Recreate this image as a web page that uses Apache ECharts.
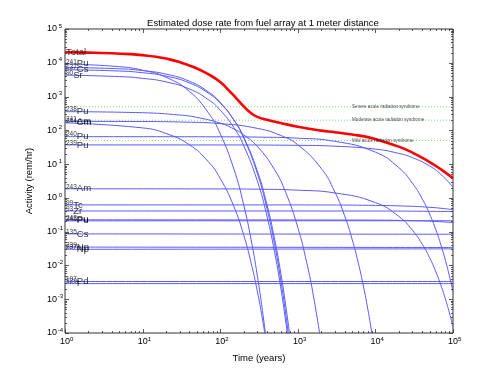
<!DOCTYPE html>
<html><head><meta charset="utf-8">
<script src="https://cdn.jsdelivr.net/npm/echarts@6/dist/echarts.min.js"></script>
<style>html,body{margin:0;padding:0;background:#fff}#c{width:500px;height:375px}</style>
</head><body><div id="c"></div>
<script>
const FONT = '"Liberation Sans", Arial, Helvetica, sans-serif';
const chartTitle = 'Estimated dose rate from fuel array at 1 meter distance';
const xName = 'Time (years)';
const yName = 'Activity (rem/hr)';
const xDecades = [0, 1, 2, 3, 4, 5];
const yDecades = [-4, -3, -2, -1, 0, 1, 2, 3, 4, 5];

// [time (years), dose rate (rem/hr)]
const totalData = [[1,20400],[2,20000],[4,19200],[7,18000],[10,16800],[15,15000],[20,13300],[30,10500],[45,7500],[70,4600],[100,2700],[130,1500],[160,900],[200,520],[250,320],[300,250],[400,205],[600,165],[1000,128],[2000,98],[3000,88],[5000,75],[8000,63],[12000,48],[20000,33],[30000,22],[50000,11.5],[70000,7],[100000,3.8]];
const pu241Data = [[1,9300],[5,7670],[10,6030],[20,3730],[40,1426],[70,335],[100,79.3],[150,7.14],[200,0.644],[250,0.058],[300,0.0052],[350,4.7e-4],[400,4.25e-5]];
const unlabeledData = [[1,7300],[5,6630],[10,5880],[20,4620],[40,2850],[70,1387],[100,673],[150,203],[200,60.9],[300,5.48],[400,0.493],[500,0.0444],[600,0.0040],[700,3.6e-4],[800,3.25e-5]];
const cs137Data = [[1,6250],[5,5700],[10,5080],[20,4040],[40,2540],[70,1275],[100,640],[150,203],[200,63.8],[300,6.39],[400,0.638],[500,0.0638],[600,0.0064],[700,6.4e-4],[800,6.4e-5]];
const sr90Data = [[1,4300],[5,3900],[10,3460],[20,2720],[40,1680],[70,817],[100,396],[150,120],[200,35.9],[300,3.23],[400,0.291],[500,0.0261],[600,2.36e-3],[700,2.12e-4],[800,1.91e-5]];
const pu238Data = [[1,357],[10,332],[30,284],[50,242],[100,163],[150,110],[200,74.0],[300,33.6],[500,6.92],[700,1.43],[1000,0.133],[1300,0.0124],[1600,1.16e-3],[2000,4.9e-5]];
const am241Data = [[1,185],[10,182.4],[30,176.6],[100,157.8],[300,114.5],[600,70.7],[1000,37.2],[2000,7.49],[3000,1.50],[4000,0.302],[5000,0.0608],[6000,0.01224],[7000,2.46e-3],[8000,4.94e-4],[9000,9.9e-5],[10000,1.99e-5]];
const cm244Data = [[1,167],[10,118],[20,80.7],[40,37.5],[70,11.9],[100,3.77],[150,0.556],[200,0.082],[250,0.012],[300,1.78e-3],[350,2.62e-4],[400,3.86e-5]];
const pu240Data = [[1,65],[100,64.3],[300,63.0],[1000,58.5],[3000,47.3],[10000,22.6],[20000,7.87],[30000,2.73],[40000,0.948],[50000,0.330],[60000,0.115],[70000,0.0399],[80000,0.0139],[90000,4.82e-3],[100000,1.68e-3]];
const pu239Data = [[1,37],[100,36.9],[1000,36.0],[3000,33.9],[10000,27.8],[20000,20.8],[30000,15.6],[50000,8.78],[70000,4.93],[100000,2.08]];
const am243Data = [[1,1.86],[100,1.842],[300,1.81],[1000,1.693],[3000,1.402],[10000,0.726],[20000,0.284],[30000,0.1107],[40000,0.0432],[50000,0.01688],[60000,6.58e-3],[70000,2.57e-3],[80000,1.0e-3],[90000,3.92e-4],[100000,1.53e-4]];
const tc99Data = [[1,0.62],[1000,0.618],[10000,0.600],[30000,0.562],[50000,0.526],[70000,0.493],[100000,0.446]];
const zr93Data = [[1,0.41],[10000,0.408],[30000,0.404],[100000,0.392]];
const pu242Data = [[1,0.224],[10000,0.220],[30000,0.211],[50000,0.205],[100000,0.186]];
const x245Data = [[1,0.209],[100000,0.211]];
const cs135Data = [[1,0.086],[100000,0.084]];
const np239Data = [[1,0.035],[100000,0.034]];
const np237Data = [[1,0.030],[100000,0.031]];
const pd107Data = [[1,0.00335],[100000,0.00334]];
const i129Data = [[1,0.0029],[100000,0.0029]];

const blueSeries = [pu241Data, unlabeledData, cs137Data, sr90Data, pu238Data, am241Data, cm244Data, pu240Data, pu239Data, am243Data, tc99Data, zr93Data, pu242Data, x245Data, cs135Data, np239Data, np237Data, pd107Data, i129Data];

const labelElems  = ['Total','Pu','Cs','Sr','Pu','Am','Cm','Pu','Pu','Am','Tc','Zr','Pu','Pu','Cs','Np','Np','Pd','I'];
const labelMasses = ['','241','137','90','238','241','244','240','239','243','99','93','242','245','135','239','237','107','129'];
const labelValues = [20400,9300,6250,4300,357,185,167,65,37,1.86,0.62,0.41,0.224,0.209,0.086,0.035,0.030,0.00335,0.0029];

const thresholdNames = ['Severe acute radiation syndrome','Moderate acute radiation syndrome','Mild acute radiation syndrome'];
const thresholdValues = [500, 200, 50];
const thresholdLabelX = 5000;

const XMIN = 1, XMAX = 1e5, YMIN = 1e-4, YMAX = 1e5;

// axis tick positions (major + minor 2..9)
const xTickData = [], yTickData = [];
xDecades.forEach(function (d) {
  xTickData.push([Math.pow(10, d), 1, 1]);
  if (d < 5) for (let m = 2; m <= 9; m++) xTickData.push([m * Math.pow(10, d), 1, 0]);
});
yDecades.forEach(function (d) {
  yTickData.push([1, Math.pow(10, d), 1]);
  if (d < 5) for (let m = 2; m <= 9; m++) yTickData.push([1, m * Math.pow(10, d), 0]);
});

const TICK = '#333';
function tickRender(isX) {
  return function (params, api) {
    const cs = params.coordSys;
    const p = api.coord([api.value(0), api.value(1)]);
    const len = api.value(2) ? 4 : 2;
    const st = { stroke: TICK, lineWidth: 0.8 };
    if (isX) {
      const x = Math.round(p[0]) + 0.5;
      return { type: 'group', children: [
        { type: 'line', shape: { x1: x, y1: cs.y + cs.height, x2: x, y2: cs.y + cs.height - len }, style: st },
        { type: 'line', shape: { x1: x, y1: cs.y, x2: x, y2: cs.y + len }, style: st }
      ]};
    }
    const y = Math.round(p[1]) + 0.5;
    return { type: 'group', children: [
      { type: 'line', shape: { x1: cs.x, y1: y, x2: cs.x + len, y2: y }, style: st },
      { type: 'line', shape: { x1: cs.x + cs.width, y1: y, x2: cs.x + cs.width - len, y2: y }, style: st }
    ]};
  };
}

const series = [];
thresholdValues.forEach(function (v) {
  series.push({ type: 'line', data: [[XMIN, v], [XMAX, v]], symbol: 'none', silent: true,
    lineStyle: { color: '#7fd77f', width: 1, type: [1, 2] }, z: 1 });
});
blueSeries.forEach(function (d) {
  series.push({ type: 'line', data: d, symbol: 'none', smooth: 0.5, silent: true,
    lineStyle: { color: '#5a5aff', width: 1 }, z: 2 });
});
series.push({ type: 'line', data: totalData, symbol: 'none', smooth: 0.5, silent: true,
  lineStyle: { color: '#ff0000', width: 2.6 }, z: 3 });

series.push({
  type: 'scatter', symbolSize: 0, silent: true, z: 5, clip: false,
  data: labelValues.map(function (v, i) { return { value: [XMIN, v], mass: labelMasses[i], elem: labelElems[i] }; }),
  label: {
    show: true, position: 'right', distance: 1,
    formatter: function (p) { return p.data.mass ? '{s|' + p.data.mass + '}{m|' + p.data.elem + '}' : '{m|' + p.data.elem + '}'; },
    rich: {
      s: { fontFamily: FONT, fontSize: 6.5, lineHeight: 4, verticalAlign: 'top', color: '#000' },
      m: { fontFamily: FONT, fontSize: 9.5, lineHeight: 11, verticalAlign: 'middle', color: '#000' }
    }
  }
});
series.push({
  type: 'scatter', symbolSize: 0, silent: true, z: 5, clip: false,
  data: thresholdValues.map(function (v, i) { return { value: [thresholdLabelX, v], name: thresholdNames[i] }; }),
  label: { show: true, position: 'right', distance: 0, formatter: '{b}', fontFamily: FONT, fontSize: 4.6, color: '#222' }
});
series.push({ type: 'custom', coordinateSystem: 'cartesian2d', silent: true, clip: false, z: 6, data: xTickData, renderItem: tickRender(true) });
series.push({ type: 'custom', coordinateSystem: 'cartesian2d', silent: true, clip: false, z: 6, data: yTickData, renderItem: tickRender(false) });

const chart = echarts.init(document.getElementById('c'), null, { renderer: 'canvas' });
chart.setOption({
  animation: false,
  backgroundColor: '#fff',
  title: { text: chartTitle, left: 258, top: 13, textAlign: 'center',
    textStyle: { fontFamily: FONT, fontSize: 9.5, fontWeight: 'normal', color: '#000' } },
  grid: { left: 65, right: 47, top: 29, bottom: 42, show: true, borderColor: '#333', borderWidth: 1, backgroundColor: '#fff' },
  xAxis: {
    type: 'log', logBase: 10, min: XMIN, max: XMAX, splitNumber: 5,
    name: xName, nameLocation: 'middle', nameGap: 20,
    nameTextStyle: { fontFamily: FONT, fontSize: 9.5, color: '#000' },
    axisLine: { show: false }, axisTick: { show: false }, splitLine: { show: false },
    axisLabel: { margin: 3, formatter: function (v) { return '{b|10}{e|' + Math.round(Math.log10(v)) + '}'; },
      rich: { b: { fontFamily: FONT, fontSize: 9, lineHeight: 12, verticalAlign: 'middle', color: '#000', padding: [0, 0, 0, 3.5] },
              e: { fontFamily: FONT, fontSize: 6, lineHeight: 4, verticalAlign: 'top', color: '#000' } } }
  },
  yAxis: {
    type: 'log', logBase: 10, min: YMIN, max: YMAX, splitNumber: 9,
    name: yName, nameLocation: 'middle', nameGap: 31,
    nameTextStyle: { fontFamily: FONT, fontSize: 9.5, color: '#000' },
    axisLine: { show: false }, axisTick: { show: false }, splitLine: { show: false },
    axisLabel: { margin: 1, align: 'right', formatter: function (v) { return '{b|10}{e|' + Math.round(Math.log10(v)) + '}'; },
      rich: { b: { fontFamily: FONT, fontSize: 9, lineHeight: 12, verticalAlign: 'middle', color: '#000' },
              e: { fontFamily: FONT, fontSize: 6, lineHeight: 4, verticalAlign: 'top', color: '#000', width: 7, align: 'left' } } }
  },
  series: series
});
</script></body></html>
